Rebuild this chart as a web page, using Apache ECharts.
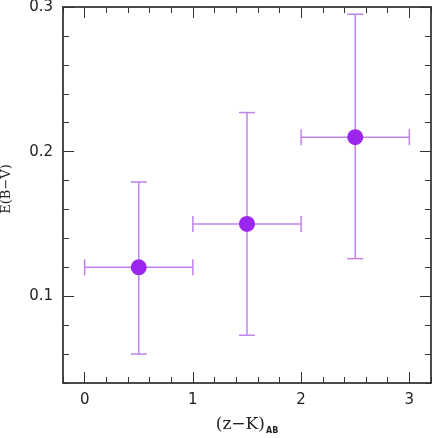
<!DOCTYPE html>
<html>
<head>
<meta charset="utf-8">
<script src="https://cdn.jsdelivr.net/npm/echarts@6/dist/echarts.min.js"></script>
<style>
  html, body { margin: 0; padding: 0; background: #fff; }
  #chart { width: 435px; height: 438px; }
</style>
</head>
<body>
<div id="chart"></div>
<script>
// binned points: x centre, E(B-V), and error bar ends
var xVals = [0.5, 1.5, 2.5];
var yVals = [0.12, 0.15, 0.21];
var xLow = [0, 1, 2];
var xHigh = [1, 2, 3];
var yLow = [0.060, 0.073, 0.126];
var yHigh = [0.179, 0.227, 0.295];

var xMajor = [0, 1, 2, 3];
var xMinor = [-0.2, 0.2, 0.4, 0.6, 0.8, 1.2, 1.4, 1.6, 1.8, 2.2, 2.4, 2.6, 2.8, 3.2];
var yMajor = [0.1, 0.2, 0.3];
var yMinor = [0.04, 0.06, 0.08, 0.12, 0.14, 0.16, 0.18, 0.22, 0.24, 0.26, 0.28];

var purple = '#9b27ee';
var barColor = '#c382ea';

var myechart = echarts.init(document.getElementById('chart'));

var pts = xVals.map(function (x, i) {
  return [x, yVals[i], xLow[i], xHigh[i], yLow[i], yHigh[i]];
});

function axisX(pos, vals, len, labels, extra) {
  var a = {
    type: 'value', position: pos, min: -0.2, max: 3.2,
    axisLine: { show: labels || len > 8, onZero: false, lineStyle: { color: '#111', width: 1.5 } },
    axisTick: { show: true, inside: true, length: len, customValues: vals, lineStyle: { color: '#333', width: 1 } },
    axisLabel: { show: labels, customValues: vals, margin: 10, color: '#222', fontSize: 15, fontFamily: 'DejaVu Sans' },
    splitLine: { show: false }
  };
  return Object.assign(a, extra || {});
}
function axisY(pos, vals, len, labels, extra) {
  var a = {
    type: 'value', position: pos, min: 0.04, max: 0.3,
    axisLine: { show: labels || len > 8, onZero: false, lineStyle: { color: '#111', width: 1.5 } },
    axisTick: { show: true, inside: true, length: len, customValues: vals, lineStyle: { color: '#333', width: 1 } },
    axisLabel: { show: labels, customValues: vals, margin: 10, color: '#222', fontSize: 15, fontFamily: 'DejaVu Sans',
      formatter: function (v) { return v.toFixed(1); } },
    splitLine: { show: false }
  };
  return Object.assign(a, extra || {});
}

myechart.setOption({
  animation: false,
  grid: { left: 63, right: 4, top: 7, bottom: 55, outerBoundsMode: 'none', containLabel: false },
  xAxis: [
    axisX('bottom', xMajor, 11, true, {
      name: '{m|(z\u2212K)}{s|AB}', nameLocation: 'middle', nameGap: 32,
      nameTextStyle: {
        rich: {
          m: { fontFamily: 'DejaVu Serif', fontSize: 17, color: '#222' },
          s: { fontFamily: 'DejaVu Sans', fontSize: 8, fontWeight: 'bold', color: '#222', padding: [12, 0, 0, 1] }
        }
      }
    }),
    axisX('bottom', xMinor, 6, false),
    axisX('top', xMajor, 11, false),
    axisX('top', xMinor, 6, false)
  ],
  yAxis: [
    axisY('left', yMajor, 11, true, {
      name: 'E(B\u2212V)', nameLocation: 'middle', nameGap: 50,
      nameTextStyle: { fontFamily: 'DejaVu Serif', fontSize: 13, color: '#222', padding: [0, 0, 0, 12] }
    }),
    axisY('left', yMinor, 6, false),
    axisY('right', yMajor, 11, false),
    axisY('right', yMinor, 6, false)
  ],
  series: [
    {
      type: 'custom',
      data: pts,
      renderItem: function (params, api) {
        var c = api.coord([api.value(0), api.value(1)]);
        var l = api.coord([api.value(2), api.value(1)]);
        var r = api.coord([api.value(3), api.value(1)]);
        var b = api.coord([api.value(0), api.value(4)]);
        var t = api.coord([api.value(0), api.value(5)]);
        var cap = 8;
        var st = { stroke: barColor, lineWidth: 1.5 };
        return {
          type: 'group',
          children: [
            { type: 'line', shape: { x1: l[0], y1: c[1], x2: r[0], y2: c[1] }, style: st },
            { type: 'line', shape: { x1: l[0], y1: c[1] - cap, x2: l[0], y2: c[1] + cap }, style: st },
            { type: 'line', shape: { x1: r[0], y1: c[1] - cap, x2: r[0], y2: c[1] + cap }, style: st },
            { type: 'line', shape: { x1: c[0], y1: b[1], x2: c[0], y2: t[1] }, style: st },
            { type: 'line', shape: { x1: c[0] - cap, y1: b[1], x2: c[0] + cap, y2: b[1] }, style: st },
            { type: 'line', shape: { x1: c[0] - cap, y1: t[1], x2: c[0] + cap, y2: t[1] }, style: st }
          ]
        };
      },
      z: 2
    },
    {
      type: 'scatter',
      data: pts.map(function (p) { return [p[0], p[1]]; }),
      symbolSize: 16,
      itemStyle: { color: purple, opacity: 1 },
      z: 3
    }
  ]
});
</script>
</body>
</html>
